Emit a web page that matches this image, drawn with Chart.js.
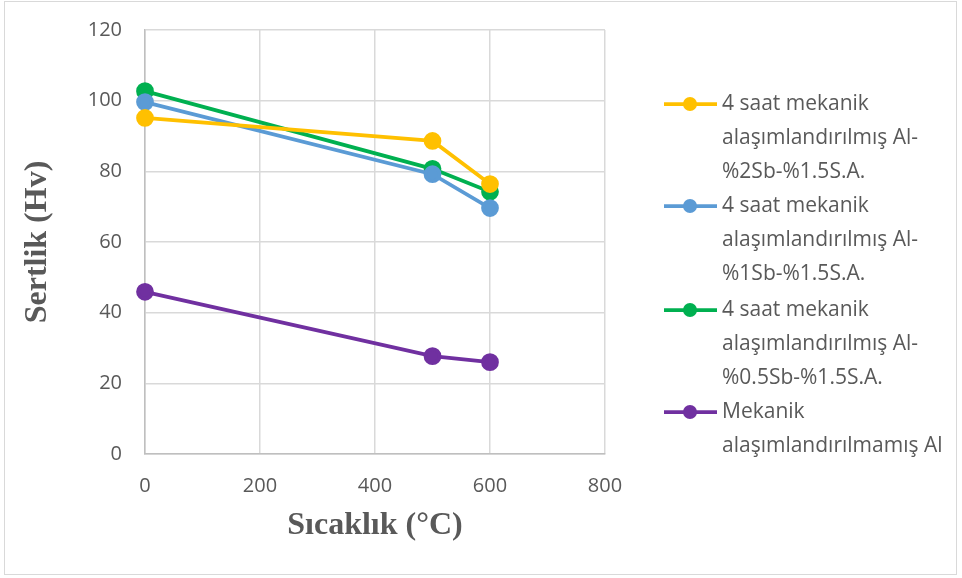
<!DOCTYPE html>
<html><head><meta charset="utf-8">
<script src="https://cdn.jsdelivr.net/npm/chart.js@4"></script>
<style>
html,body{margin:0;padding:0;background:#fff;}
#wrap{position:absolute;left:4px;top:1px;width:953px;height:574px;border:1px solid #d9d9d9;box-sizing:border-box;}
#c{position:absolute;left:0;top:0;}
</style></head><body>
<div id="wrap"></div>
<canvas id="c" width="962" height="578"></canvas>
<script>
const temps = [0, 500, 600];
const sb2 = [95.1, 88.6, 76.4];
const sb1 = [99.6, 79.2, 69.6];
const sb05 = [102.7, 80.7, 74.2];
const plain = [45.9, 27.7, 26.0];
const seriesNames = [
  ["4 saat mekanik", "alaşımlandırılmış Al-", "%2Sb-%1.5S.A."],
  ["4 saat mekanik", "alaşımlandırılmış Al-", "%1Sb-%1.5S.A."],
  ["4 saat mekanik", "alaşımlandırılmış Al-", "%0.5Sb-%1.5S.A."],
  ["Mekanik", "alaşımlandırılmamış Al"]
];
const colors = ["#FFC000", "#5B9BD5", "#00B050", "#7030A0"];
const xTitle = "Sıcaklık (°C)";
const yTitle = "Sertlik (Hv)";

function ds(name, vals, col){
  return {label: name.join(" "), data: temps.map((t,i)=>({x:t,y:vals[i]})),
    borderColor: col, backgroundColor: col, pointBackgroundColor: col, pointBorderColor: col,
    borderWidth: 3.75, pointRadius: 7, pointHoverRadius: 7, tension: 0, clip: false};
}
const legendPlugin = {
  id: 'sideLegend',
  afterDraw(chart){
    const ctx = chart.ctx;
    const tops = [104, 206, 310, 412];
    ctx.save();
    ctx.font = '21px "Open Sans", sans-serif';
    ctx.textBaseline = 'middle';
    seriesNames.forEach((lines, i) => {
      const y = tops[i];
      ctx.strokeStyle = colors[i];
      ctx.lineWidth = 3.75;
      ctx.beginPath(); ctx.moveTo(664, y); ctx.lineTo(717, y); ctx.stroke();
      ctx.fillStyle = colors[i];
      ctx.beginPath(); ctx.arc(690, y, 7, 0, Math.PI*2); ctx.fill();
      ctx.fillStyle = '#595959';
      lines.forEach((t, j) => ctx.fillText(t, 722, y + j*34));
    });
    ctx.restore();
  }
};
const tickFont = { size: 20, family: '"Open Sans", sans-serif' };
const titleFont = { size: 32, weight: 'bold', family: '"Liberation Serif", "Times New Roman", serif' };
new Chart(document.getElementById('c'), {
  type: 'line',
  data: { datasets: [ds(seriesNames[0], sb2, colors[0]), ds(seriesNames[1], sb1, colors[1]), ds(seriesNames[2], sb05, colors[2]), ds(seriesNames[3], plain, colors[3])] },
  options: {
    responsive: false, animation: false, devicePixelRatio: 1,
    layout: { padding: { left: 0, right: 357, top: 30, bottom: 0 } },
    plugins: { legend: { display: false }, tooltip: { enabled: false } },
    scales: {
      x: { type: 'linear', min: 0, max: 800,
        ticks: { stepSize: 200, color: '#595959', font: tickFont, padding: 20 },
        grid: { color: '#d9d9d9', lineWidth: 1.5, drawTicks: false },
        border: { color: '#bfbfbf', width: 1.5 },
        title: { display: true, text: xTitle, color: '#595959', font: titleFont, padding: { top: 0, bottom: 33 } },
        afterFit(s){ s.height = 124; s.paddingLeft = 0; s.paddingRight = 0; }
      },
      y: { min: 0, max: 120,
        ticks: { stepSize: 20, color: '#595959', font: tickFont, padding: 23 },
        grid: { color: '#d9d9d9', lineWidth: 1.5, drawTicks: false },
        border: { color: '#bfbfbf', width: 1.5 },
        title: { display: true, text: yTitle, color: '#595959', font: titleFont, padding: { top: 19, bottom: 0 } },
        afterFit(s){ s.width = 145; s.paddingTop = 0; s.paddingBottom = 0; }
      }
    }
  },
  plugins: [legendPlugin]
});
</script>
</body></html>
